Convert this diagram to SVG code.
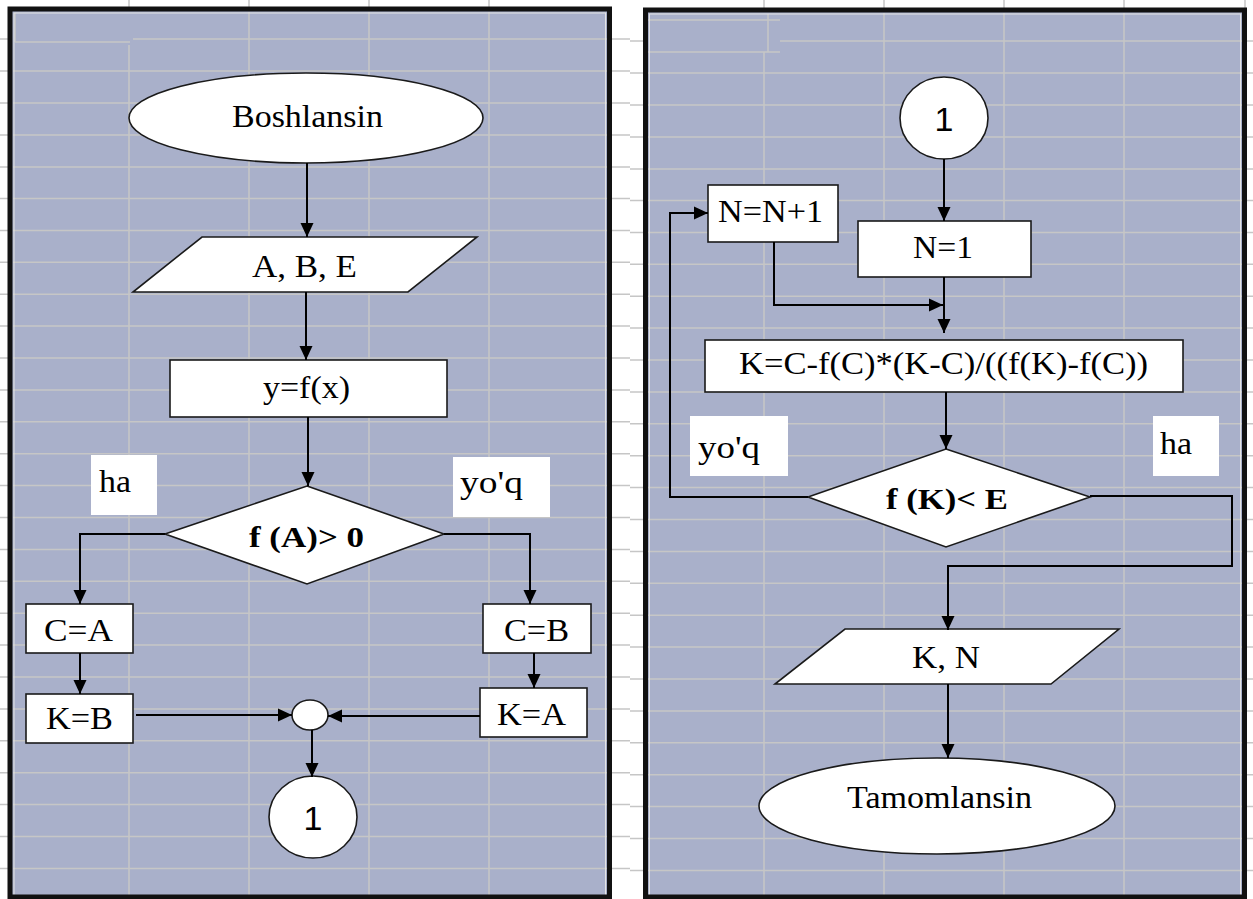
<svg xmlns="http://www.w3.org/2000/svg" width="1253" height="899" viewBox="0 0 1253 899">
  <style>
    .sheet { fill: #A9B0CA; }
    .grid { fill: none; stroke: #C6C6C6; stroke-width: 1.5; }
    .frame { fill: none; stroke: #111; stroke-width: 5; }
    .frame-in { fill: none; stroke: #E4E4E4; stroke-width: 1; }
    .shape { fill: #fff; stroke: #1a1a1a; stroke-width: 1.6; }
    .label { fill: #fff; stroke: none; }
    .t { font-family: "Liberation Serif", "Times New Roman", serif; font-size: 31px; fill: #000; }
    .tb { font-family: "Liberation Serif", "Times New Roman", serif; font-size: 30px; font-weight: bold; fill: #000; }
    .ts { font-family: "Liberation Sans", Arial, sans-serif; font-size: 34px; fill: #000; }
    .wire { fill: none; stroke: #000; stroke-width: 2; marker-end: url(#arrow); }
    .wire-plain { fill: none; stroke: #000; stroke-width: 2; }
  </style>
  <defs>
    <marker id="arrow" markerUnits="userSpaceOnUse" markerWidth="14" markerHeight="14" refX="14" refY="7" orient="auto">
      <path d="M0,0.5 L14,7 L0,13.5 z" fill="#000"/>
    </marker>
  </defs>

  <!-- page -->
  <rect x="0" y="0" width="1253" height="899" fill="#fff"/>

  <!-- sheet grid stubs outside the framed areas -->
  <path class="grid" d="M0,39H8M0,71H8M0,103H8M0,135H8M0,167H8M0,198.5H8M0,230.4H8M0,262.3H8M0,294.2H8M0,326.1H8M0,358H8M0,389.9H8M0,421.8H8M0,453.7H8M0,485.6H8M0,517.5H8M0,549.4H8M0,581.3H8M0,613.2H8M0,645.1H8M0,677H8M0,708.9H8M0,740.8H8M0,772.7H8M0,804.6H8M0,836.5H8M0,868.4H8"/>
  <path class="grid" d="M612,39H630M612,71H630M612,103H630M612,135H630M612,167H630M612,198.5H630M612,230.4H630M612,262.3H630M612,294.2H630M612,326.1H630M612,358H630M612,389.9H630M612,421.8H630M612,453.7H630M612,485.6H630M612,517.5H630M612,549.4H630M612,581.3H630M612,613.2H630M612,645.1H630M612,677H630M612,708.9H630M612,740.8H630M612,772.7H630M612,804.6H630M612,836.5H630M612,868.4H630"/>
  <path class="grid" d="M630,41H643M630,73H643M630,105H643M630,137H643M630,169H643M630,200.5H643M630,232.4H643M630,264.3H643M630,296.2H643M630,328.1H643M630,360H643M630,391.9H643M630,423.8H643M630,455.7H643M630,487.6H643M630,519.5H643M630,551.4H643M630,583.3H643M630,615.2H643M630,647.1H643M630,679H643M630,710.9H643M630,742.8H643M630,774.7H643M630,806.6H643M630,838.5H643M630,870.4H643"/>
  <path class="grid" d="M1247,41H1253M1247,73H1253M1247,105H1253M1247,137H1253M1247,169H1253M1247,200.5H1253M1247,232.4H1253M1247,264.3H1253M1247,296.2H1253M1247,328.1H1253M1247,360H1253M1247,391.9H1253M1247,423.8H1253M1247,455.7H1253M1247,487.6H1253M1247,519.5H1253M1247,551.4H1253M1247,583.3H1253M1247,615.2H1253M1247,647.1H1253M1247,679H1253M1247,710.9H1253M1247,742.8H1253M1247,774.7H1253M1247,806.6H1253M1247,838.5H1253M1247,870.4H1253"/>
  <path class="grid" d="M129,0V8M249,0V8M369,0V8M489,0V8M764,0V9M884,0V9M1004,0V9M1124,0V9M1245,0V9"/>

  <!-- left sheet -->
  <g id="sheet-left">
    <rect class="sheet" x="10" y="9" width="599.5" height="888"/>
    <path class="grid" d="M15,42H130M133,39H607M13,71H607M13,103H607M13,135H607M13,167H607M13,198.5H607M13,230.4H607M13,262.3H607M13,294.2H607M13,326.1H607M13,358H607M13,389.9H607M13,421.8H607M13,453.7H607M13,485.6H607M13,517.5H607M13,549.4H607M13,581.3H607M13,613.2H607M13,645.1H607M13,677H607M13,708.9H607M13,740.8H607M13,772.7H607M13,804.6H607M13,836.5H607M13,868.4H607"/>
    <path class="grid" d="M15,13V42M129,45V897M249,12V897M369,12V897M489,12V897"/>
    <rect class="frame-in" x="14" y="13" width="591.5" height="884"/>
    <rect class="frame" x="10" y="9" width="599.5" height="888"/>
  </g>

  <!-- right sheet -->
  <g id="sheet-right">
    <rect class="sheet" x="645.5" y="10" width="599" height="887"/>
    <path class="grid" d="M648,20H780M648,52H780M780,41H1242M648,73H1242M648,105H1242M648,137H1242M648,169H1242M648,200.5H1242M648,232.4H1242M648,264.3H1242M648,296.2H1242M648,328.1H1242M648,360H1242M648,391.9H1242M648,423.8H1242M648,455.7H1242M648,487.6H1242M648,519.5H1242M648,551.4H1242M648,583.3H1242M648,615.2H1242M648,647.1H1242M648,679H1242M648,710.9H1242M648,742.8H1242M648,774.7H1242M648,806.6H1242M648,838.5H1242M648,870.4H1242"/>
    <path class="grid" d="M768,14V52M764,52V897M884,13V897M1004,13V897M1124,13V897"/>
    <rect class="frame-in" x="649.5" y="14" width="591" height="883"/>
    <rect class="frame" x="645.5" y="10" width="599" height="887"/>
  </g>

  <!-- left flowchart -->
  <g id="start">
    <ellipse class="shape" cx="306" cy="118" rx="177" ry="45"/>
    <text class="t" x="307.5" y="127" text-anchor="middle" font-size="32" textLength="151" lengthAdjust="spacingAndGlyphs">Boshlansin</text>
  </g>
  <g id="input-abe">
    <polygon class="shape" points="202,237 477,237 408,292 133,292"/>
    <text class="t" x="304.5" y="277" text-anchor="middle" textLength="105" lengthAdjust="spacingAndGlyphs">A, B, E</text>
  </g>
  <g id="define-f">
    <rect class="shape" x="170" y="360" width="277" height="57"/>
    <text class="t" x="306.5" y="398" text-anchor="middle" textLength="87" lengthAdjust="spacingAndGlyphs">y=f(x)</text>
  </g>
  <g id="label-ha-left">
    <rect class="label" x="91" y="455" width="66" height="60"/>
    <text class="t" x="99" y="492" textLength="32" lengthAdjust="spacingAndGlyphs">ha</text>
  </g>
  <g id="label-yoq-left">
    <rect class="label" x="453" y="457" width="97" height="60"/>
    <text class="t" x="460" y="493" textLength="63" lengthAdjust="spacingAndGlyphs">yo'q</text>
  </g>
  <g id="test-fa">
    <polygon class="shape" points="307,486 444,534 307,584 165,534"/>
    <text class="tb" x="306.5" y="547" text-anchor="middle" textLength="115" lengthAdjust="spacingAndGlyphs">f (A)&gt; 0</text>
  </g>
  <g id="set-c-a">
    <rect class="shape" x="26" y="604" width="107" height="49"/>
    <text class="t" x="78.5" y="641" text-anchor="middle" textLength="69" lengthAdjust="spacingAndGlyphs">C=A</text>
  </g>
  <g id="set-k-b">
    <rect class="shape" x="26" y="694" width="107" height="49"/>
    <text class="t" x="79.5" y="729" text-anchor="middle" textLength="67" lengthAdjust="spacingAndGlyphs">K=B</text>
  </g>
  <g id="set-c-b">
    <rect class="shape" x="483" y="604" width="108" height="49"/>
    <text class="t" x="536.5" y="641" text-anchor="middle" textLength="65" lengthAdjust="spacingAndGlyphs">C=B</text>
  </g>
  <g id="set-k-a">
    <rect class="shape" x="480" y="688" width="107" height="49"/>
    <text class="t" x="531.5" y="725" text-anchor="middle" textLength="69" lengthAdjust="spacingAndGlyphs">K=A</text>
  </g>
  <g id="join">
    <ellipse class="shape" cx="310" cy="715" rx="18" ry="15"/>
  </g>
  <g id="page-out">
    <ellipse class="shape" cx="313" cy="817" rx="44" ry="41"/>
    <text class="ts" x="313" y="830" text-anchor="middle">1</text>
  </g>

  <!-- right flowchart -->
  <g id="page-in">
    <ellipse class="shape" cx="944" cy="118" rx="44" ry="41"/>
    <text class="ts" x="944" y="131" text-anchor="middle">1</text>
  </g>
  <g id="step-n">
    <rect class="shape" x="708" y="185" width="130" height="57"/>
    <text class="t" x="718" y="222" textLength="105" lengthAdjust="spacingAndGlyphs">N=N+1</text>
  </g>
  <g id="init-n">
    <rect class="shape" x="858" y="221" width="173" height="56"/>
    <text class="t" x="913" y="258" textLength="60" lengthAdjust="spacingAndGlyphs">N=1</text>
  </g>
  <g id="chord">
    <rect class="shape" x="705" y="340" width="478" height="52"/>
    <text class="t" x="739" y="374" textLength="409" lengthAdjust="spacingAndGlyphs">K=C-f(C)*(K-C)/((f(K)-f(C))</text>
  </g>
  <g id="label-yoq-right">
    <rect class="label" x="690" y="416" width="98" height="60"/>
    <text class="t" x="698" y="458" textLength="62" lengthAdjust="spacingAndGlyphs">yo'q</text>
  </g>
  <g id="label-ha-right">
    <rect class="label" x="1153" y="416" width="66" height="60"/>
    <text class="t" x="1160" y="454" textLength="32" lengthAdjust="spacingAndGlyphs">ha</text>
  </g>
  <g id="test-fk">
    <polygon class="shape" points="946,449 1090,497 946,547 808,497"/>
    <text class="tb" x="886" y="509" textLength="122" lengthAdjust="spacingAndGlyphs">f (K)&lt; E</text>
  </g>
  <g id="output-kn">
    <polygon class="shape" points="845,629 1119,629 1051,684 775,684"/>
    <text class="t" x="912" y="668" textLength="68" lengthAdjust="spacingAndGlyphs">K, N</text>
  </g>
  <g id="end">
    <ellipse class="shape" cx="937" cy="806" rx="178" ry="48"/>
    <text class="t" x="847" y="808" font-size="32" textLength="185" lengthAdjust="spacingAndGlyphs">Tamomlansin</text>
  </g>

  <!-- connectors -->
  <g id="connectors">
    <path class="wire" d="M307,163V237"/>
    <path class="wire" d="M306,292V360"/>
    <path class="wire" d="M308,417V486"/>
    <path class="wire" d="M165,534H80V604"/>
    <path class="wire" d="M444,534H530V604"/>
    <path class="wire" d="M80,653V694"/>
    <path class="wire" d="M534,653V688"/>
    <path class="wire" d="M136,715H292"/>
    <path class="wire" d="M480,716H328"/>
    <path class="wire" d="M312,730V777"/>

    <path class="wire" d="M944,159V221"/>
    <path class="wire" d="M944,277V333"/>
    <path class="wire" d="M774,242V305H943"/>
    <path class="wire" d="M946,392V449"/>
    <path class="wire" d="M808,497H670V213H708"/>
    <path class="wire" d="M1090,496H1232V566H948V630"/>
    <path class="wire" d="M948,684V758"/>
  </g>
</svg>
